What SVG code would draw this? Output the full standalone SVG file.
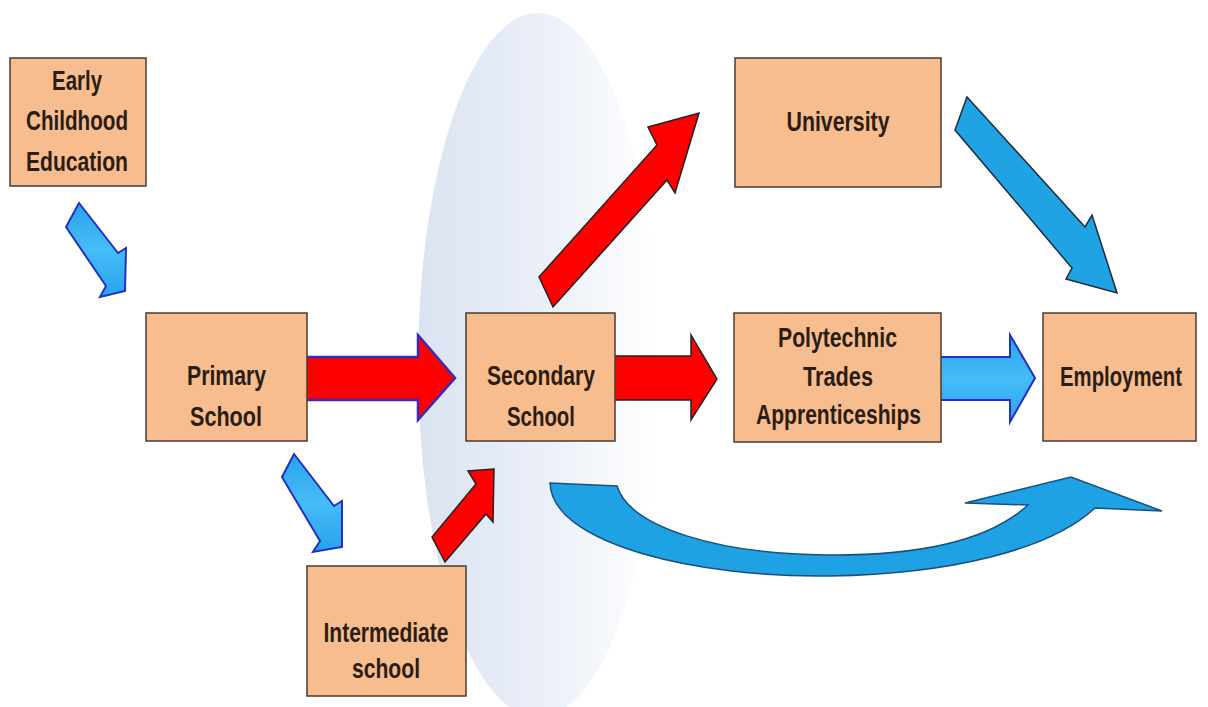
<svg xmlns="http://www.w3.org/2000/svg" width="1208" height="707" viewBox="0 0 1208 707">
  <defs>
    <linearGradient id="ell" x1="0" y1="0" x2="1" y2="0">
      <stop offset="0" stop-color="#dbe3f1"/>
      <stop offset="0.5" stop-color="#eaeff8"/>
      <stop offset="1" stop-color="#ffffff"/>
    </linearGradient>
    <linearGradient id="blueG" x1="0" y1="0" x2="0" y2="1">
      <stop offset="0" stop-color="#2aa2ec"/>
      <stop offset="0.5" stop-color="#45bdf7"/>
      <stop offset="1" stop-color="#2aa2ec"/>
    </linearGradient>
    <style>
      .box { fill: #f7bd8f; stroke: #4a3a30; stroke-width: 1.5; }
      .lbl { font-family: "Liberation Sans Narrow", "Liberation Sans", Arial, sans-serif; font-weight: bold; font-size: 28px; fill: #2b1d12; text-anchor: middle; }
      .red { fill: #ff0000; stroke: #222222; stroke-width: 1.5; stroke-linejoin: miter; }
      .redb { fill: #ff0000; stroke: #3a2ab8; stroke-width: 2.5; }
      .sblue { fill: url(#blueG); stroke: #2030c8; stroke-width: 2; }
      .bblue { fill: #1fa3e3; stroke: #1a2a40; stroke-width: 1.5; }
      .cblue { fill: #1ea2e4; stroke: #1b4f80; stroke-width: 1.5; }
    </style>
  </defs>
  <rect width="1208" height="707" fill="#ffffff"/>
  <ellipse cx="538" cy="365" rx="120" ry="352" fill="url(#ell)"/>

  <g id="connectors">
    <polygon class="sblue" points="79,203 118,253 126,248 125,291 100,297 106,286 66,227"/>
    <polygon class="sblue" points="294,454 334,506 342,501 342,547 313,552 320,541 282,477"/>
    <polygon class="redb" points="305,357 418,357 418,335 455,378 418,420 418,400 305,400"/>
    <polygon class="red" points="614,356 691,356 691,335 717,379 691,420 691,400 614,400"/>
    <polygon class="sblue" points="939,357 1010,357 1010,335 1035,378 1010,422 1010,400 939,400"/>
    <polygon class="red" points="445,562 432,537 476,484 468,471 494,469 493,522 486,514"/>
    <polygon class="red" points="539,277 657,145 648,127 699,113 675,193 667,180 553,307"/>
    <polygon class="bblue" points="967,97 1085,227 1092,215 1117,293 1066,279 1072,268 955,130"/>
    <path class="cblue" d="M550,483 C552,545 700,578 830,576 C950,574 1050,550 1095,508 L1162,511 L1071,477 L965,503 L1028,505 C990,540 920,556 826,555 C720,554 630,528 617,486 Z"/>
  </g>

  <g id="early-childhood">
    <rect class="box" x="10" y="58" width="136" height="128"/>
    <text class="lbl" x="77" y="90" textLength="50" lengthAdjust="spacingAndGlyphs">Early</text>
    <text class="lbl" x="77" y="130" textLength="102" lengthAdjust="spacingAndGlyphs">Childhood</text>
    <text class="lbl" x="77" y="171" textLength="102" lengthAdjust="spacingAndGlyphs">Education</text>
  </g>
  <g id="university">
    <rect class="box" x="735" y="58" width="206" height="129"/>
    <text class="lbl" x="838" y="131" textLength="103" lengthAdjust="spacingAndGlyphs">University</text>
  </g>
  <g id="primary-school">
    <rect class="box" x="146" y="313" width="161" height="128"/>
    <text class="lbl" x="226.5" y="385" textLength="79" lengthAdjust="spacingAndGlyphs">Primary</text>
    <text class="lbl" x="226" y="426" textLength="72" lengthAdjust="spacingAndGlyphs">School</text>
  </g>
  <g id="secondary-school">
    <rect class="box" x="466" y="313" width="149" height="128"/>
    <text class="lbl" x="541" y="385" textLength="108" lengthAdjust="spacingAndGlyphs">Secondary</text>
    <text class="lbl" x="541" y="426" textLength="68" lengthAdjust="spacingAndGlyphs">School</text>
  </g>
  <g id="polytechnic">
    <rect class="box" x="734" y="313" width="207" height="129"/>
    <text class="lbl" x="837.5" y="347" textLength="119" lengthAdjust="spacingAndGlyphs">Polytechnic</text>
    <text class="lbl" x="838" y="386" textLength="70" lengthAdjust="spacingAndGlyphs">Trades</text>
    <text class="lbl" x="838.5" y="424" textLength="165" lengthAdjust="spacingAndGlyphs">Apprenticeships</text>
  </g>
  <g id="employment">
    <rect class="box" x="1043" y="313" width="153" height="128"/>
    <text class="lbl" x="1121" y="386" textLength="122" lengthAdjust="spacingAndGlyphs">Employment</text>
  </g>
  <g id="intermediate-school">
    <rect class="box" x="307" y="566" width="159" height="130"/>
    <text class="lbl" x="386" y="642" textLength="125" lengthAdjust="spacingAndGlyphs">Intermediate</text>
    <text class="lbl" x="386" y="678" textLength="68" lengthAdjust="spacingAndGlyphs">school</text>
  </g>
</svg>
